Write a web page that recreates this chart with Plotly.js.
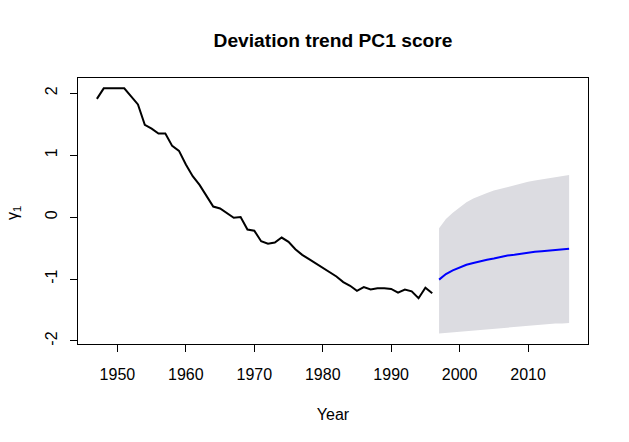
<!DOCTYPE html>
<html>
<head>
<meta charset="utf-8">
<script src="https://cdn.plot.ly/plotly-3.0.1.min.js"></script>
<style>html,body{margin:0;padding:0;background:#fff;}#chart{width:629px;height:442px;}</style>
</head>
<body>
<div id="chart"></div>
<script>
const years = [1947,1948,1949,1950,1951,1952,1953,1954,1955,1956,1957,1958,1959,1960,1961,1962,1963,1964,1965,1966,1967,1968,1969,1970,1971,1972,1973,1974,1975,1976,1977,1978,1979,1980,1981,1982,1983,1984,1985,1986,1987,1988,1989,1990,1991,1992,1993,1994,1995,1996];
const pc1Score = [1.91,2.08,2.08,2.08,2.08,1.95,1.82,1.49,1.43,1.35,1.35,1.15,1.07,0.85,0.66,0.52,0.34,0.17,0.14,0.06,-0.01,0.0,-0.20,-0.22,-0.39,-0.43,-0.41,-0.33,-0.40,-0.52,-0.61,-0.68,-0.75,-0.83,-0.90,-0.96,-1.05,-1.11,-1.19,-1.13,-1.17,-1.15,-1.15,-1.16,-1.22,-1.17,-1.20,-1.31,-1.14,-1.23];
const forecastYears = [1997,1998,1999,2000,2001,2002,2003,2004,2005,2006,2007,2008,2009,2010,2011,2012,2013,2014,2015,2016];
const forecastMean = [-1.01,-0.92,-0.86,-0.81,-0.77,-0.74,-0.71,-0.69,-0.67,-0.64,-0.62,-0.61,-0.59,-0.58,-0.56,-0.55,-0.54,-0.53,-0.52,-0.51];
const forecastUpper = [-0.18,-0.03,0.07,0.16,0.24,0.30,0.35,0.39,0.43,0.46,0.49,0.52,0.54,0.57,0.59,0.61,0.63,0.65,0.66,0.68];
const forecastLower = [-1.88,-1.87,-1.86,-1.85,-1.84,-1.83,-1.82,-1.81,-1.80,-1.79,-1.78,-1.77,-1.76,-1.76,-1.75,-1.74,-1.73,-1.72,-1.72,-1.71];
const xTicks = [1950,1960,1970,1980,1990,2000,2010];
const yTicks = [-2,-1,0,1,2];

const traces = [
  {x: forecastYears, y: forecastLower, type:'scatter', mode:'lines', line:{width:0, color:'rgba(0,0,0,0)'}, hoverinfo:'skip', showlegend:false},
  {x: forecastYears, y: forecastUpper, type:'scatter', mode:'lines', fill:'tonexty', fillcolor:'#dcdce1', line:{width:0, color:'rgba(0,0,0,0)'}, hoverinfo:'skip', showlegend:false},
  {x: years, y: pc1Score, type:'scatter', mode:'lines', line:{color:'#000000', width:2}, showlegend:false},
  {x: forecastYears, y: forecastMean, type:'scatter', mode:'lines', line:{color:'#0000ff', width:2}, showlegend:false}
];

const font = {family:'Liberation Sans, Arial, sans-serif', color:'#000', size:16};
const layout = {
  width:629, height:442,
  paper_bgcolor:'#fff', plot_bgcolor:'#fff',
  margin:{l:78, r:41, t:78, b:98, pad:0},
  font: font,
  showlegend:false,
  title:{text:'<b>Deviation trend PC1 score</b>', font:{family:'Liberation Sans, Arial, sans-serif', size:19.2, color:'#000'}, x:0.5, xref:'paper', xanchor:'center', y:1-40/442, yref:'container', yanchor:'middle'},
  xaxis:{
    range:[1944.24, 2018.76], tickmode:'array', tickvals:xTicks, ticktext:xTicks.map(String),
    ticks:'outside', ticklen:7, tickwidth:1, tickcolor:'#000',
    showline:true, mirror:true, linecolor:'#000', linewidth:1,
    showgrid:false, zeroline:false, ticklabelstandoff:9,
    tickfont:font,
    title:{text:'Year', font:font, standoff:26}
  },
  yaxis:{
    range:[-2.05, 2.247], tickmode:'array', tickvals:yTicks, ticktext:yTicks.map(String),
    ticks:'outside', ticklen:7, tickwidth:1, tickcolor:'#000', tickangle:-90,
    showline:true, mirror:true, linecolor:'#000', linewidth:1,
    showgrid:false, zeroline:false, ticklabelstandoff:7,
    tickfont:font,
    title:{text:''}
  },
  annotations:[
    {text:'γ<sub>1</sub>', xref:'paper', yref:'paper', x:(13-78)/510, y:(344-213)/266, xanchor:'center', yanchor:'middle', textangle:-90, showarrow:false, font:font}
  ]
};
Plotly.newPlot('chart', traces, layout, {displayModeBar:false, staticPlot:true});
</script>
</body>
</html>
